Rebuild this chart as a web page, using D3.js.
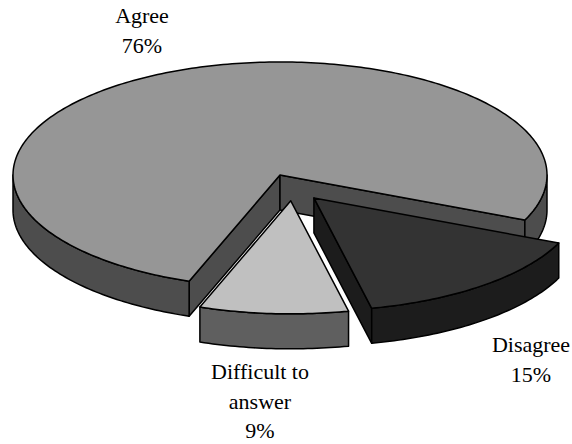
<!DOCTYPE html>
<html><head><meta charset="utf-8">
<script src="https://cdn.jsdelivr.net/npm/d3@7"></script>
<style>html,body{margin:0;padding:0;background:#fff}</style>
</head><body>
<svg id="chart" width="572" height="444"></svg>
<script>
// ---- data ----
const categories = ["Agree", "Disagree", "Difficult to answer"];
const values = [76, 15, 9];
const labelLines = [["Agree", "76%"], ["Disagree", "15%"], ["Difficult to", "answer", "9%"]];

// ---- styling / layout ----
const topColors = ["#969696", "#333333", "#c0c0c0"];
const sideColors = ["#4d4d4d", "#1c1c1c", "#5f5f5f"];
const explode = [{dist: 0, dir: 0}, {dist: 64, dir: 58}, {dist: 62, dir: 80}];
const labelPos = [{x: 142, y: 23}, {x: 531, y: 352}, {x: 260, y: 379}];
const cx = 280, cy = 175, rx = 267, ry = 113, depth = 35;
const startDeg = -160.1;
const lineGap = 29.5;

const svg = d3.select("#chart");
const rad = Math.PI / 180;
const pie = d3.pie().sort(null).value(d => d)
  .startAngle(startDeg * rad).endAngle(startDeg * rad + 2 * Math.PI);
const arcs = pie(values);
const line = d3.line();

function rim(o, t, dz) { return [o[0] + rx * Math.cos(t), o[1] + ry * Math.sin(t) + (dz || 0)]; }
function arcPts(o, t1, t2, dz) {
  const n = Math.max(2, Math.ceil(Math.abs(t2 - t1) / rad));
  const pts = [];
  for (let i = 0; i <= n; i++) pts.push(rim(o, t1 + (t2 - t1) * i / n, dz));
  return pts;
}

[0, 1, 2].forEach(i => {
  const a = arcs[i];
  const e = explode[i];
  const o = [cx + e.dist * Math.cos(e.dir * rad), cy + e.dist * Math.sin(e.dir * rad) * ry / rx];
  const t1 = a.startAngle - Math.PI / 2, t2 = a.endAngle - Math.PI / 2;
  const g = svg.append("g").attr("class", "slice").datum(categories[i]);
  const style = sel => sel.attr("stroke", "#000").attr("stroke-width", 1.5).attr("stroke-linejoin", "round");

  // cut faces facing the viewer
  const faces = [];
  if (Math.cos(t1) < 0) faces.push(t1);
  if (Math.cos(t2) > 0) faces.push(t2);
  faces.forEach(t => {
    const p = rim(o, t);
    const pts = [o, p, [p[0], p[1] + depth], [o[0], o[1] + depth]];
    g.append("path").attr("d", line(pts) + "Z").attr("fill", sideColors[i]).call(style);
  });

  // outer side (front half only)
  for (let k = -2; k <= 2; k++) {
    const s = Math.max(t1, 2 * Math.PI * k), en = Math.min(t2, 2 * Math.PI * k + Math.PI);
    if (en > s + 1e-6) {
      const pts = arcPts(o, s, en, 0).concat(arcPts(o, en, s, depth));
      g.append("path").attr("d", line(pts) + "Z").attr("fill", sideColors[i]).call(style);
    }
  }

  // top surface
  const topPts = [o].concat(arcPts(o, t1, t2, 0));
  g.append("path").attr("d", line(topPts) + "Z").attr("fill", topColors[i]).call(style);
});

// labels (one text element per line)
labelLines.forEach((lines, i) => {
  lines.forEach((l, j) => {
    svg.append("text")
      .attr("x", labelPos[i].x).attr("y", labelPos[i].y + j * lineGap)
      .attr("text-anchor", "middle")
      .style("font-family", "'Liberation Serif'")
      .attr("font-size", 22).attr("fill", "#000")
      .text(l);
  });
});
</script>
</body></html>
